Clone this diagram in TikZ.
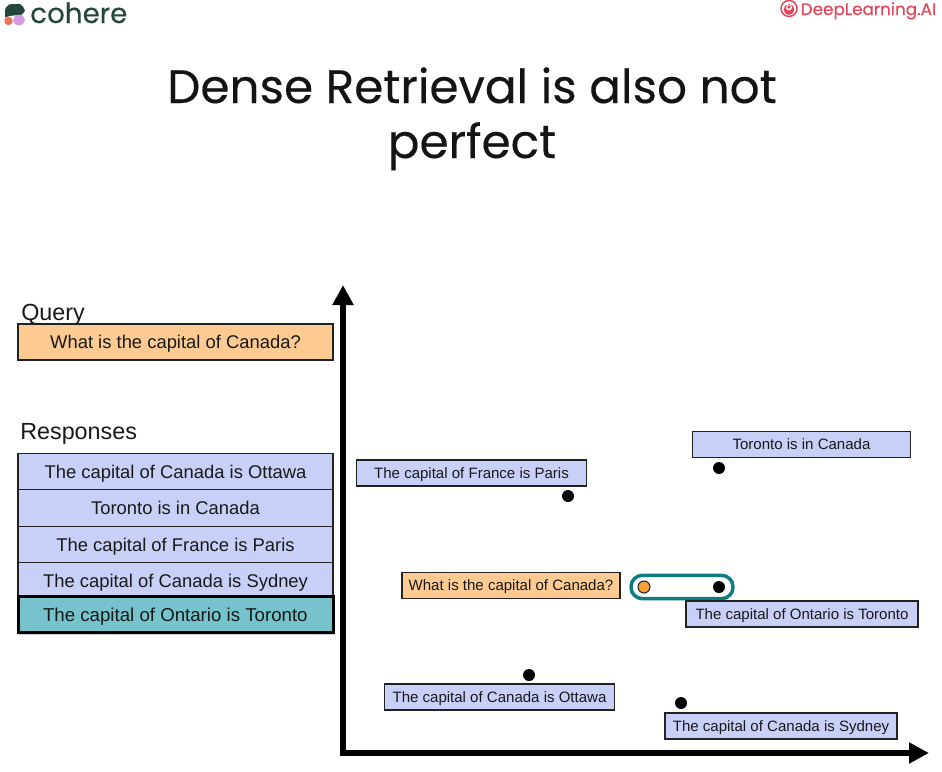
\documentclass[tikz,border=0pt]{standalone}
\usepackage{fontspec}
\setmainfont{Liberation Sans}
\newfontfamily\popp[FakeBold=0.25]{Poppins}
\usetikzlibrary{arrows.meta,shadows}
\definecolor{respblue}{HTML}{C9D0F8}
\definecolor{queryor}{HTML}{FDCB92}
\definecolor{tealfill}{HTML}{76C3CD}
\definecolor{pillteal}{HTML}{0F7C82}
\definecolor{dotor}{HTML}{F6A23C}
\definecolor{inkdark}{HTML}{222222}
\definecolor{cogreen}{HTML}{25463C}
\definecolor{coorange}{HTML}{F0705A}
\definecolor{copurple}{HTML}{D49BE0}
\definecolor{dlred}{HTML}{E2485A}
\tikzset{
  lbox/.style={draw=inkdark,line width=0.8pt,anchor=center,inner sep=0pt,text height=10pt,text depth=0pt,font=\fontsize{13.8}{16}\selectfont,text=black!90},
  sbox/.style={draw=inkdark,line width=0.8pt,anchor=center,inner sep=0pt,text height=7.7pt,text depth=0pt,font=\fontsize{11.27}{13}\selectfont,text=black!90,fill=respblue},
  dotk/.style={circle,fill=black,inner sep=0pt,minimum size=9pt},
  axisline/.style={line width=4.2pt,black,-{Triangle[length=15pt,width=15pt]}},
  head/.style={anchor=base west,inner sep=0pt,font=\fontsize{17.5}{20}\selectfont,text=black!90},
}
\begin{document}
\begin{tikzpicture}[x=0.75pt,y=-0.75pt]
\useasboundingbox (0,0) rectangle (942,771);
\fill[white] (0,0) rectangle (942,771);
% logos
\fill[cogreen,rounded corners=3.5pt] (5,6.5) .. controls (10,4) and (20,4) .. (24,6) .. controls (25,11) and (22,15) .. (16,15) .. controls (10,16) and (5,17) .. (5,13) -- cycle;
\fill[coorange] (8.5,21) circle (4.2);
\fill[copurple] (19,20) ellipse (6 and 5.3);
\node[anchor=base west,inner sep=0pt,text=cogreen,font=\popp\fontsize{20.8}{24}\selectfont] (cohere) at (30,23) {cohere};
\draw[dlred,line width=1.1pt] (789,8.5) circle (8);
\fill[dlred] (789,9.5) circle (5.4);
\fill[white] (789,7.5) circle (3);
\fill[dlred] (789,7) circle (1.8);
\node[anchor=base west,inner sep=0pt,text=dlred,font=\popp\fontsize{12.6}{16}\selectfont] (dl) at (800.5,15) {DeepLearning.AI};
% title
\node[anchor=base,inner sep=0pt,text=black!92,font=\popp\fontsize{35.2}{40}\selectfont] (t1) at (472,103) {Dense Retrieval is also not};
\node[anchor=base,inner sep=0pt,text=black!92,font=\popp\fontsize{35.2}{40}\selectfont] (t2) at (472,158) {perfect};
% left
\node[head] (qh) at (21,320) {Query};
\node[lbox,fill=queryor,minimum width=236.25pt,minimum height=27pt] (q) at (175.5,342) {What is the capital of Canada?};
\node[head] (rh) at (20,439) {Responses};
\node[lbox,fill=respblue,minimum width=236.25pt,minimum height=27.5pt] (r1) at (175.5,471.5) {The capital of Canada is Ottawa};
\node[lbox,fill=respblue,minimum width=236.25pt,minimum height=27.5pt] (r2) at (175.5,508) {Toronto is in Canada};
\node[lbox,fill=respblue,minimum width=236.25pt,minimum height=27.5pt] (r3) at (175.5,544.5) {The capital of France is Paris};
\node[lbox,fill=respblue,minimum width=236.25pt,minimum height=27.5pt] (r4) at (175.5,581) {The capital of Canada is Sydney};
\node[lbox,fill=tealfill,draw=black,line width=2.2pt,minimum width=236.25pt,minimum height=27pt,font=\fontsize{14}{16}\selectfont,
  drop shadow={shadow xshift=0pt,shadow yshift=-1.5pt,opacity=.35}] (r5) at (176,614.5) {\kern-1pt The capital of Ontario is Toronto};
% axes
\coordinate (origin) at (343,755);
\coordinate (ytip) at (343,285);
\coordinate (xstart) at (340,753);
\coordinate (xtip) at (929,753);
\draw[axisline] (origin) -- (ytip);
\draw[axisline] (xstart) -- (xtip);
% scatter
\node[sbox,minimum width=164pt,minimum height=19.5pt] (s1) at (801.5,444.5) {Toronto is in Canada};
\node[sbox,minimum width=173pt,minimum height=19.5pt] (s2) at (471.5,473) {The capital of France is Paris};
\node[sbox,fill=queryor,minimum width=163.5pt,minimum height=19.5pt] (s3) at (511,585.5) {What is the capital of Canada?};
\node[draw=pillteal,line width=2.6pt,rounded corners=8.5pt,minimum width=76.5pt,minimum height=17.5pt,inner sep=0pt,
  drop shadow={shadow xshift=0pt,shadow yshift=-1pt,opacity=.25},fill=white] (pill) at (682,587) {};
\node[sbox,minimum width=174pt,minimum height=19.5pt] (s4) at (802,614) {The capital of Ontario is Toronto};
\node[sbox,minimum width=173pt,minimum height=19.5pt] (s5) at (499.5,697) {The capital of Canada is Ottawa};
\node[sbox,minimum width=174pt,minimum height=19.5pt] (s6) at (781,726) {The capital of Canada is Sydney};
\node[dotk] (d1) at (719,468) {};
\node[dotk] (d2) at (568,496) {};
\node[dotk] (d3) at (719,587) {};
\node[circle,fill=dotor,draw=inkdark,line width=0.8pt,inner sep=0pt,minimum size=9pt] (d4) at (644,587) {};
\node[dotk] (d5) at (529,675) {};
\node[dotk] (d6) at (681,703) {};
\end{tikzpicture}
\end{document}
